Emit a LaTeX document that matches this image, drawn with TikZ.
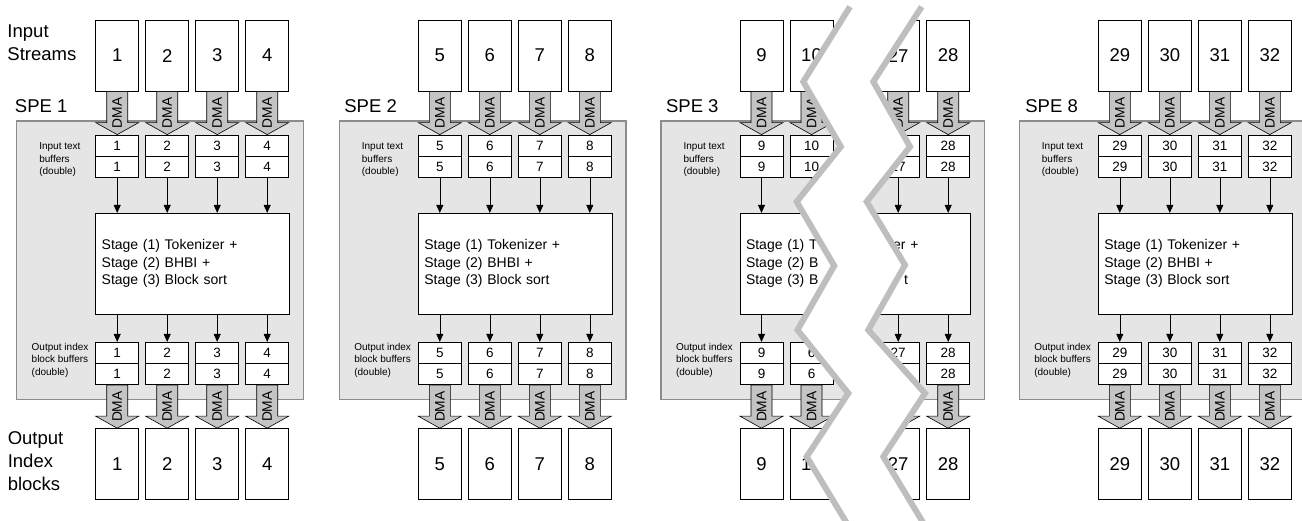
\documentclass[tikz,border=0pt]{standalone}
\usepackage{fontspec}
\setmainfont{Liberation Sans}
\usetikzlibrary{calc,arrows.meta}
\definecolor{spefill}{HTML}{E5E5E5}
\definecolor{speborder}{HTML}{8C8C8C}
\definecolor{dmafill}{HTML}{C4C4C4}
\definecolor{breakgray}{HTML}{BEBEBE}
\tikzset{
 box/.style={draw=black, line width=0.8pt, fill=white, inner sep=0pt, minimum width=43pt},
 bigbox/.style={box, minimum height=71.2pt, font=\fontsize{18.5}{22}\selectfont},
 bufbox/.style={box, minimum height=21.2pt, font=\fontsize{13.5}{16}\selectfont},
 stagebox/.style={draw=black, line width=0.8pt, fill=white, inner xsep=6pt, inner ysep=0pt,
   minimum width=193.6pt, minimum height=100.7pt, text width=181.6pt, align=left,
   font=\fontsize{14}{17.3}\selectfont},
 spebox/.style={draw=speborder, fill=spefill, line width=1.3pt, minimum width=286.6pt,
   minimum height=278.3pt, inner sep=0pt},
 dma/.style={draw=black, line width=0.6pt, fill=dmafill},
 dmatext/.style={rotate=90, font=\fontsize{13.8}{16}\selectfont, inner sep=0pt},
 conn/.style={draw=black, line width=0.6pt, -{Triangle[length=8pt,width=7pt]}},
 biglabel/.style={anchor=base west, inner sep=0pt, font=\fontsize{18.5}{22}\selectfont},
 smalllabel/.style={anchor=base west, inner sep=0pt, font=\fontsize{10}{12}\selectfont},
 breakline/.style={draw=breakgray, line width=6pt, line join=miter},
}
\newcommand{\dmaarrow}[3]{%
  \path[dma] ($(#1)+(-10.5,0)$) -- ($(#2)+(-10.5,-12)$) -- ($(#2)+(-21.5,-12)$) -- (#2)
    -- ($(#2)+(21.5,-12)$) -- ($(#2)+(10.5,-12)$) -- ($(#1)+(10.5,0)$) -- cycle;
  \node[dmatext] (#3) at ($(#1)!0.5!(#2)$) {DMA};
}
\newcommand{\spegroup}[4]{%
  \node[spebox] (#1-spe) at ({#2+64.3},260.15) {};
  \node[stagebox] (#1-st) at ({#2+96.8},263.65) {#4};
  \foreach \i/\va/\vb/\vc in {#3} {
    \pgfmathsetmacro{\cx}{#2+50*(\i-1)+21.5}
    \node[bigbox] (#1-in-\i) at (\cx,55.6) {\va};
    \node[bufbox] (#1-ib1-\i) at (\cx,145.6) {\va};
    \node[bufbox] (#1-ib2-\i) at (\cx,166.8) {\va};
    \node[bufbox] (#1-ob1-\i) at (\cx,352.9) {\vb};
    \node[bufbox] (#1-ob2-\i) at (\cx,374.1) {\vb};
    \node[bigbox] (#1-out-\i) at (\cx,464.2) {\vc};
    \draw[conn] (#1-ib2-\i.south) -- (#1-ib2-\i.south |- #1-st.north);
    \draw[conn] (#1-st.south -| #1-ob1-\i.north) -- (#1-ob1-\i.north);
    \dmaarrow{#1-in-\i.south}{#1-ib1-\i.north}{#1-dmain-\i}
    \dmaarrow{#1-ob2-\i.south}{#1-out-\i.north}{#1-dmaout-\i}
  }
}
\newcommand{\stagefull}{Stage (1) Tokenizer +\\Stage (2) BHBI +\\Stage (3) Block sort}
\newcommand{\sidelabels}[4]{%
  \node[smalllabel] (#1-l1) at ({#2-56.6},150) {Input text};
  \node[smalllabel] (#1-l2) at ({#2-56.6},162.3) {buffers};
  \node[smalllabel] (#1-l3) at ({#2-56.6},174.6) {(double)};
  \node[smalllabel] (#1-l4) at ({#2-64.2},350.5) {Output index};
  \node[smalllabel] (#1-l5) at ({#2-64.2},362.8) {block buffers};
  \node[smalllabel] (#1-l6) at ({#2-64.2},375.1) {(double)};
  \node[biglabel] (#1-name) at (#3,112.3) {SPE #4};
}
\begin{document}
\begin{tikzpicture}[x=1pt,y=-1pt]
\useasboundingbox (0,0) rectangle (1302,521);
\fill[white] (0,0) rectangle (1302,521);
% left labels
\node[biglabel] (lab-input) at (7.3,37.3) {Input};
\node[biglabel] (lab-streams) at (7.3,60.7) {Streams};
\node[biglabel] (lab-output) at (7.6,444) {Output};
\node[biglabel] (lab-index) at (7.6,467.3) {Index};
\node[biglabel] (lab-blocks) at (7.6,490.7) {blocks};
% SPE 1
\spegroup{s1}{95.7}{1/1/1/1,2/2/2/2,3/3/3/3,4/4/4/4}{\stagefull}
\sidelabels{s1}{95.7}{14.8}{1}
% SPE 2
\spegroup{s2}{418.3}{1/5/5/5,2/6/6/6,3/7/7/7,4/8/8/8}{\stagefull}
\sidelabels{s2}{418.3}{344.2}{2}
% SPE 3 (left part)
\begin{scope}
\clip (600,-2) -- (850,-2) -- (850,6.7) -- (803.3,81.7) -- (840.8,146.7) -- (796.7,201.7)
  -- (834.2,265.8) -- (797.5,330) -- (848.3,393.3) -- (806.7,456.7) -- (846.7,523) -- (600,523) -- cycle;
\spegroup{s3a}{740}{1/9/9/9,2/10/6/10}{Stage (1) T\\Stage (2) B\\Stage (3) B}
\end{scope}
% SPE 3 (right part)
\begin{scope}
\clip (1005,-2) -- (921.7,-2) -- (921.7,6.7) -- (873.3,81.7) -- (910,146.7) -- (866.7,201.7)
  -- (905,265) -- (868.3,330) -- (925,393.3) -- (883.3,456.7) -- (923.3,523) -- (1005,523) -- cycle;
\spegroup{s3b}{776.7}{3/27/27/27,4/28/28/28}{\phantom{Stage (1) Tokeniz}er +\\\phantom{Stage (2) BHBI +}\\\phantom{Stage (3) Block sor}t}
\end{scope}
\sidelabels{s3}{740}{665.9}{3}
% SPE 8
\spegroup{s8}{1098.3}{1/29/29/29,2/30/30/30,3/31/31/31,4/32/32/32}{\stagefull}
\sidelabels{s8}{1098.3}{1025.2}{8}
% break lines
\draw[breakline] (850,6.7) -- (803.3,81.7) -- (840.8,146.7) -- (796.7,201.7)
  -- (834.2,265.8) -- (797.5,330) -- (848.3,393.3) -- (806.7,456.7) -- (846.7,523);
\draw[breakline] (921.7,6.7) -- (873.3,81.7) -- (910,146.7) -- (866.7,201.7)
  -- (905,265) -- (868.3,330) -- (925,393.3) -- (883.3,456.7) -- (923.3,523);
\end{tikzpicture}
\end{document}
